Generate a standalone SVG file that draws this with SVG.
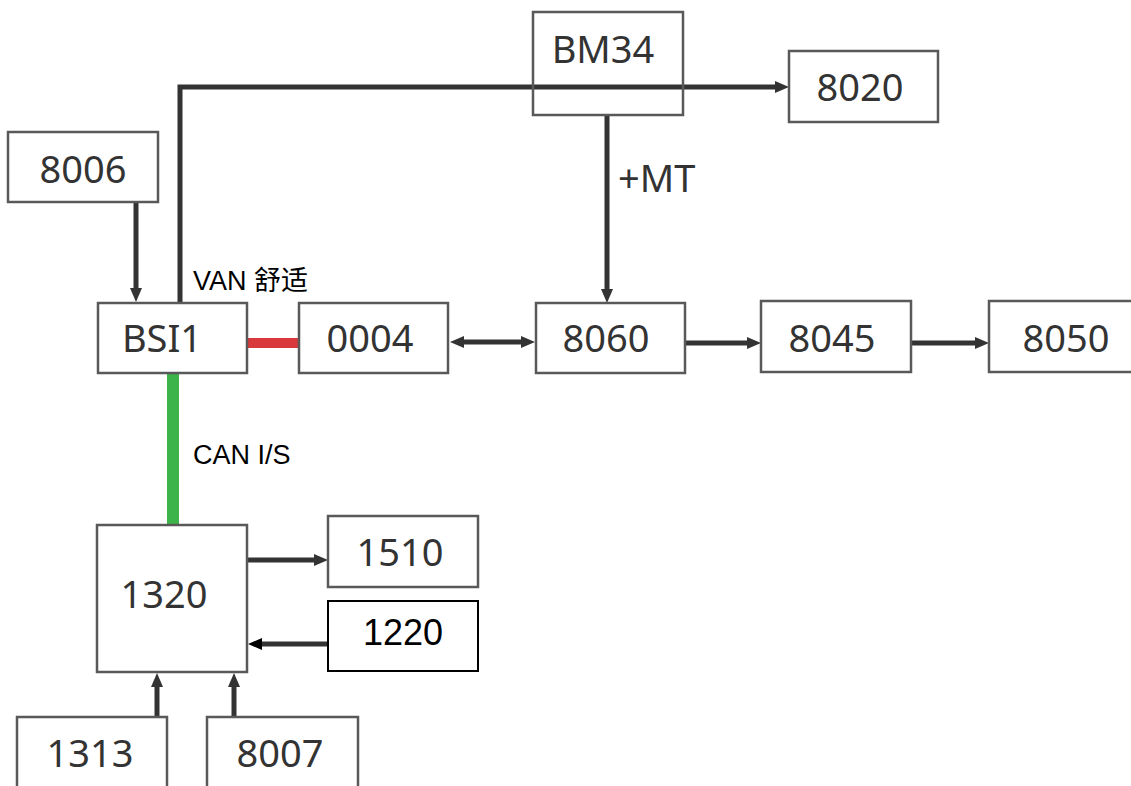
<svg xmlns="http://www.w3.org/2000/svg" width="1131" height="786" viewBox="0 0 1131 786">
<style>
.box{fill:#fff;stroke:#595959;stroke-width:2.5}
.box2{fill:#fff;stroke:#000;stroke-width:2}
.lbl{font-family:"Noto Sans","Open Sans",sans-serif;font-size:38px;fill:#333;text-anchor:middle}
.lbl2{font-family:"Liberation Sans",Arial,sans-serif;font-size:36px;fill:#000;text-anchor:middle}
.note{font-family:"Liberation Sans",Arial,"Noto Sans CJK SC",sans-serif;font-size:27px;fill:#000}
.conn{fill:none;stroke:#333;stroke-width:5}
</style>
<defs>
<marker id="ah" markerUnits="userSpaceOnUse" markerWidth="14" markerHeight="14" refX="3" refY="7" orient="auto-start-reverse" viewBox="0 0 14 14">
<path d="M0,1 L14,7 L0,13 z" fill="#333"/>
</marker>
<marker id="ahk" markerUnits="userSpaceOnUse" markerWidth="14" markerHeight="14" refX="3" refY="7" orient="auto-start-reverse" viewBox="0 0 14 14">
<path d="M0,1 L14,7 L0,13 z" fill="#000"/>
</marker>
</defs>
<g id="connectors">
<line class="conn" x1="136" y1="202" x2="136" y2="291" marker-end="url(#ah)"/>
<polyline class="conn" stroke-width="6" points="180,302 180,87 778,87" marker-end="url(#ah)"/>
<line class="conn" x1="607" y1="115" x2="607" y2="292" marker-end="url(#ah)"/>
<line class="conn" stroke-width="4" x1="461" y1="342" x2="524" y2="342" marker-start="url(#ah)" marker-end="url(#ah)"/>
<line class="conn" x1="685" y1="343" x2="750" y2="343" marker-end="url(#ah)"/>
<line class="conn" x1="912" y1="343" x2="978" y2="343" marker-end="url(#ah)"/>
<line x1="247" y1="343" x2="299" y2="343" stroke="#d9383c" stroke-width="10"/>
<line x1="173" y1="373" x2="173" y2="525" stroke="#3cb44a" stroke-width="12"/>
<line class="conn" x1="247" y1="560" x2="317" y2="560" marker-end="url(#ah)"/>
<line class="conn" stroke="#000" stroke-width="4" x1="328" y1="644" x2="259" y2="644" marker-end="url(#ahk)"/>
<line class="conn" x1="157" y1="717" x2="157" y2="684" marker-end="url(#ah)"/>
<line class="conn" x1="234" y1="717" x2="234" y2="684" marker-end="url(#ah)"/>
</g>
<text class="note" x="193" y="290">VAN 舒适</text>
<text class="note" x="193" y="464">CAN I/S</text>
<text class="lbl" x="618" y="192" style="text-anchor:start">+MT</text>
<g id="n8006"><rect class="box" x="8" y="132" width="150" height="70"/><text class="lbl" x="83" y="183">8006</text></g>
<g id="nBM34"><rect class="box" x="533" y="12" width="150" height="103" style="fill:none"/><text class="lbl" x="603" y="63">BM34</text></g>
<g id="n8020"><rect class="box" x="789" y="51" width="149" height="71"/><text class="lbl" x="860" y="101">8020</text></g>
<g id="nBSI1"><rect class="box" x="98" y="303" width="149" height="70"/><text class="lbl" x="162" y="352">BSI1</text></g>
<g id="n0004"><rect class="box" x="299" y="303" width="149" height="70"/><text class="lbl" x="370" y="352">0004</text></g>
<g id="n8060"><rect class="box" x="536" y="303" width="149" height="70"/><text class="lbl" x="606" y="352">8060</text></g>
<g id="n8045"><rect class="box" x="761" y="301" width="150" height="71"/><text class="lbl" x="832" y="352">8045</text></g>
<g id="n8050"><rect class="box" x="989" y="301" width="150" height="71"/><text class="lbl" x="1066" y="352">8050</text></g>
<g id="n1320"><rect class="box" x="97" y="525" width="150" height="147"/><text class="lbl" x="164" y="608">1320</text></g>
<g id="n1510"><rect class="box" x="328" y="516" width="150" height="71"/><text class="lbl" x="400" y="566">1510</text></g>
<g id="n1220"><rect class="box2" x="328" y="601" width="150" height="70"/><text class="lbl2" x="403" y="645">1220</text></g>
<g id="n1313"><rect class="box" x="17" y="717" width="150" height="90"/><text class="lbl" x="90" y="767">1313</text></g>
<g id="n8007"><rect class="box" x="207" y="717" width="151" height="90"/><text class="lbl" x="280" y="767">8007</text></g>
</svg>
